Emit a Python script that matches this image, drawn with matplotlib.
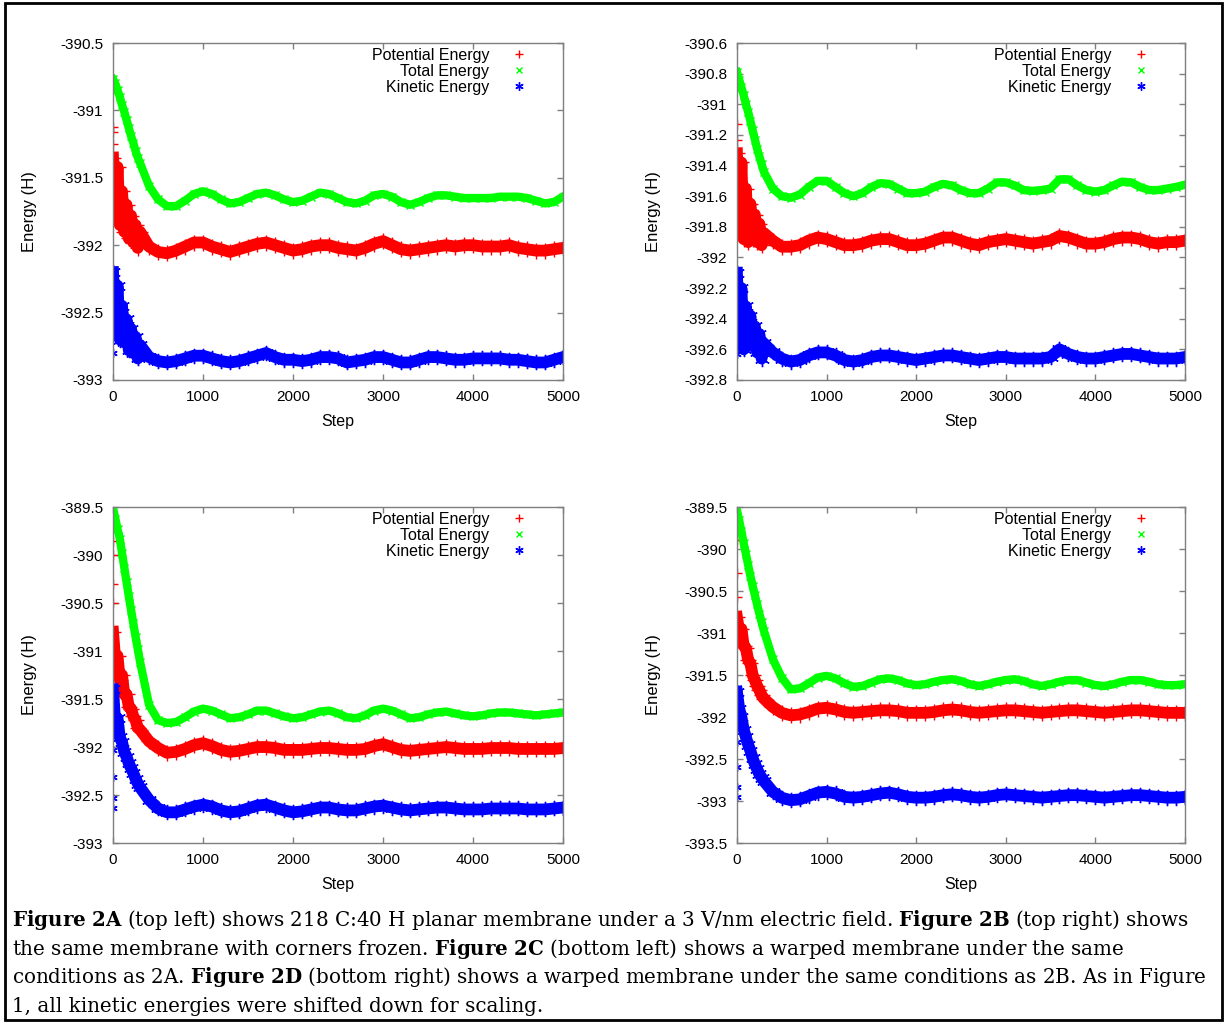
import matplotlib
matplotlib.use("Agg")
import matplotlib.pyplot as plt
from matplotlib.lines import Line2D
from matplotlib.patches import Rectangle
import numpy as np

plt.rcParams['font.family'] = ['Liberation Sans', 'DejaVu Sans']
plt.rcParams['axes.unicode_minus'] = False
plt.rcParams['mathtext.fontset'] = 'custom'
plt.rcParams['mathtext.rm'] = 'DejaVu Serif'
plt.rcParams['mathtext.bf'] = 'DejaVu Serif:bold'

# Step grid the values were read on (denser at the start where things move fast)
steps = [0, 25, 50, 75, 100, 125, 150, 175, 200, 225, 250, 275, 300] + list(range(400, 5001, 100))

# ---- Figure 2A: planar membrane ----
a_total = [-390.77, -390.80, -390.85, -390.90, -390.96, -391.01, -391.07, -391.13, -391.19, -391.24, -391.30, -391.35, -391.39,
           -391.56, -391.66, -391.71, -391.71, -391.67, -391.62, -391.60, -391.62, -391.66, -391.69, -391.68, -391.65,
           -391.62, -391.61, -391.63, -391.66, -391.68, -391.67, -391.64, -391.61, -391.62, -391.65, -391.68, -391.69,
           -391.67, -391.63, -391.62, -391.64, -391.68, -391.70, -391.68, -391.65, -391.63, -391.63, -391.64, -391.65,
           -391.65, -391.65, -391.65, -391.64, -391.64, -391.64, -391.65, -391.67, -391.69, -391.68, -391.64]
a_potential = [-391.35, -391.80, -391.42, -391.85, -391.60, -391.90, -391.70, -391.95, -391.78, -391.98, -391.85, -392.02, -391.90,
               -392.01, -392.05, -392.06, -392.04, -392.01, -391.98, -391.98, -392.01, -392.03, -392.05, -392.03, -392.01,
               -391.99, -391.98, -392.00, -392.02, -392.04, -392.03, -392.01, -392.00, -392.00, -392.02, -392.03, -392.04,
               -392.02, -391.99, -391.97, -392.00, -392.03, -392.04, -392.03, -392.02, -392.01, -392.00, -392.01, -392.00,
               -392.00, -392.01, -392.01, -392.01, -392.00, -392.02, -392.03, -392.04, -392.04, -392.03, -392.02]
a_kinetic = [-392.20, -392.65, -392.30, -392.70, -392.45, -392.72, -392.55, -392.78, -392.62, -392.80, -392.68, -392.84, -392.74,
             -392.83, -392.86, -392.87, -392.86, -392.84, -392.82, -392.82, -392.84, -392.86, -392.87, -392.86, -392.84,
             -392.82, -392.80, -392.83, -392.85, -392.85, -392.86, -392.85, -392.83, -392.83, -392.84, -392.87, -392.86,
             -392.85, -392.83, -392.83, -392.85, -392.87, -392.87, -392.85, -392.83, -392.83, -392.84, -392.85, -392.85,
             -392.84, -392.84, -392.84, -392.84, -392.85, -392.85, -392.86, -392.87, -392.87, -392.85, -392.83]

# ---- Figure 2B: corners frozen ----
b_total = [-390.79, -390.84, -390.89, -390.94, -391.00, -391.05, -391.11, -391.17, -391.23, -391.29, -391.34, -391.39, -391.44,
           -391.55, -391.60, -391.61, -391.59, -391.54, -391.50, -391.50, -391.54, -391.58, -391.60, -391.58, -391.54,
           -391.515, -391.52, -391.55, -391.58, -391.58, -391.57, -391.54, -391.52, -391.53, -391.56, -391.58, -391.58,
           -391.55, -391.51, -391.51, -391.53, -391.56, -391.565, -391.56, -391.55, -391.49, -391.49, -391.53, -391.56,
           -391.57, -391.56, -391.53, -391.505, -391.51, -391.54, -391.56, -391.56, -391.55, -391.54, -391.525]
b_potential = [-391.32, -391.85, -391.38, -391.88, -391.55, -391.90, -391.65, -391.88, -391.72, -391.90, -391.78, -391.92, -391.84,
               -391.89, -391.93, -391.93, -391.92, -391.89, -391.87, -391.88, -391.90, -391.92, -391.92, -391.91, -391.89,
               -391.88, -391.88, -391.90, -391.92, -391.92, -391.91, -391.89, -391.87, -391.87, -391.89, -391.91, -391.92,
               -391.90, -391.89, -391.88, -391.89, -391.90, -391.91, -391.90, -391.89, -391.86, -391.87, -391.89, -391.91,
               -391.91, -391.90, -391.88, -391.87, -391.87, -391.88, -391.90, -391.91, -391.90, -391.90, -391.89]
b_kinetic = [-392.10, -392.55, -392.20, -392.60, -392.32, -392.50, -392.38, -392.58, -392.45, -392.62, -392.50, -392.66, -392.56,
             -392.62, -392.66, -392.68, -392.67, -392.64, -392.62, -392.62, -392.64, -392.67, -392.68, -392.67, -392.65,
             -392.64, -392.64, -392.65, -392.66, -392.67, -392.66, -392.65, -392.64, -392.64, -392.65, -392.66, -392.67,
             -392.66, -392.65, -392.65, -392.66, -392.66, -392.66, -392.66, -392.65, -392.60, -392.63, -392.65, -392.66,
             -392.66, -392.65, -392.64, -392.63, -392.63, -392.64, -392.65, -392.66, -392.66, -392.66, -392.65]

# ---- Figure 2C: warped membrane, field only ----
c_total = [-389.51, -389.62, -389.73, -389.83, -389.98, -390.13, -390.28, -390.43, -390.57, -390.71, -390.85, -390.98, -391.11,
           -391.56, -391.72, -391.75, -391.74, -391.69, -391.63, -391.60, -391.62, -391.66, -391.70, -391.69, -391.66,
           -391.62, -391.62, -391.65, -391.68, -391.70, -391.69, -391.66, -391.63, -391.62, -391.65, -391.69, -391.70,
           -391.67, -391.62, -391.60, -391.62, -391.66, -391.70, -391.69, -391.66, -391.64, -391.63, -391.65, -391.67,
           -391.68, -391.67, -391.65, -391.64, -391.64, -391.65, -391.66, -391.67, -391.66, -391.65, -391.64]
c_potential = [-390.80, -391.10, -391.05, -391.30, -391.25, -391.45, -391.45, -391.58, -391.60, -391.68, -391.72, -391.80, -391.82,
               -391.94, -392.01, -392.06, -392.05, -392.02, -391.98, -391.96, -391.99, -392.03, -392.05, -392.04, -392.02,
               -392.00, -392.00, -392.01, -392.03, -392.03, -392.03, -392.02, -392.01, -392.01, -392.02, -392.03, -392.03,
               -392.02, -391.99, -391.97, -392.00, -392.03, -392.04, -392.03, -392.02, -392.01, -392.00, -392.01, -392.02,
               -392.02, -392.02, -392.01, -392.01, -392.01, -392.02, -392.02, -392.02, -392.02, -392.02, -392.01]
c_kinetic = [-391.40, -391.75, -391.70, -391.90, -391.95, -392.05, -392.10, -392.17, -392.22, -392.27, -392.33, -392.38, -392.42,
             -392.55, -392.64, -392.68, -392.68, -392.65, -392.62, -392.60, -392.62, -392.66, -392.68, -392.67, -392.64,
             -392.61, -392.60, -392.63, -392.66, -392.68, -392.67, -392.65, -392.63, -392.63, -392.65, -392.66, -392.66,
             -392.64, -392.62, -392.61, -392.63, -392.65, -392.66, -392.65, -392.64, -392.63, -392.63, -392.64, -392.65,
             -392.65, -392.65, -392.64, -392.64, -392.64, -392.64, -392.65, -392.65, -392.65, -392.64, -392.63]

# ---- Figure 2D: warped membrane, corners frozen ----
d_total = [-389.54, -389.66, -389.79, -389.93, -390.06, -390.19, -390.32, -390.44, -390.55, -390.66, -390.77, -390.87, -390.97,
           -391.31, -391.53, -391.67, -391.66, -391.60, -391.53, -391.51, -391.54, -391.60, -391.64, -391.63, -391.59,
           -391.55, -391.54, -391.56, -391.60, -391.62, -391.61, -391.58, -391.56, -391.55, -391.57, -391.61, -391.63,
           -391.61, -391.58, -391.56, -391.55, -391.57, -391.61, -391.63, -391.61, -391.58, -391.56, -391.56, -391.59,
           -391.62, -391.63, -391.61, -391.58, -391.56, -391.56, -391.58, -391.61, -391.62, -391.62, -391.61]
d_potential = [-390.81, -390.98, -390.95, -391.15, -391.18, -391.32, -391.36, -391.50, -391.56, -391.63, -391.68, -391.74, -391.78,
               -391.88, -391.95, -391.98, -391.97, -391.94, -391.90, -391.89, -391.91, -391.94, -391.95, -391.94, -391.93,
               -391.92, -391.92, -391.93, -391.95, -391.95, -391.95, -391.94, -391.92, -391.91, -391.92, -391.94, -391.95,
               -391.94, -391.93, -391.92, -391.92, -391.93, -391.94, -391.95, -391.94, -391.93, -391.92, -391.92, -391.93,
               -391.94, -391.95, -391.94, -391.93, -391.92, -391.92, -391.93, -391.94, -391.95, -391.95, -391.95]
d_kinetic = [-391.70, -391.90, -392.00, -392.15, -392.24, -392.33, -392.40, -392.49, -392.56, -392.62, -392.68, -392.72, -392.76,
             -392.89, -392.96, -392.99, -392.98, -392.94, -392.90, -392.89, -392.91, -392.95, -392.96, -392.95, -392.93,
             -392.91, -392.90, -392.92, -392.95, -392.96, -392.96, -392.95, -392.93, -392.92, -392.93, -392.95, -392.96,
             -392.95, -392.93, -392.92, -392.93, -392.94, -392.95, -392.96, -392.95, -392.94, -392.93, -392.93, -392.94,
             -392.95, -392.96, -392.95, -392.94, -392.93, -392.93, -392.94, -392.95, -392.96, -392.96, -392.95]

# Stray first-step points that sit away from the bands
a_pot_out = [-391.12, -391.16, -391.25]
a_kin_out = [-392.80]
b_pot_out = [-391.13, -391.23]
b_kin_out = [-392.63]
c_pot_out = [-389.85, -390.0, -390.3, -390.5]
c_kin_out = [-392.03, -392.31, -392.53, -392.64]
d_pot_out = [-389.89, -390.29, -390.57]
d_kin_out = [-392.30, -392.60, -392.83, -392.95]

series_labels = ['Potential Energy', 'Total Energy', 'Kinetic Energy']
x_ticks = [0, 1000, 2000, 3000, 4000, 5000]

RED, GREEN, BLUE = '#ff0000', '#00ff00', '#0000ff'
ASTER = (6, 2, 0)

fig = plt.figure(figsize=(12.26, 10.22), dpi=100)

panels = [
    # rect, ylim, ytick step, data
    ([0.0922, 0.6282, 0.367, 0.3297], (-393.0, -390.5), 0.5, a_potential, a_total, a_kinetic, a_pot_out, a_kin_out),
    ([0.6011, 0.6282, 0.3654, 0.3297], (-392.8, -390.6), 0.2, b_potential, b_total, b_kinetic, b_pot_out, b_kin_out),
    ([0.0922, 0.1751, 0.367, 0.3288], (-393.0, -389.5), 0.5, c_potential, c_total, c_kinetic, c_pot_out, c_kin_out),
    ([0.6011, 0.1751, 0.3654, 0.3288], (-393.5, -389.5), 0.5, d_potential, d_total, d_kinetic, d_pot_out, d_kin_out),
]

for rect, ylim, ystep, pot, tot, kin, pot_out, kin_out in panels:
    ax = fig.add_axes(rect)

    ax.plot(steps, pot, color=RED, lw=8.5, marker='+', ms=12, mew=1, solid_joinstyle='round')
    ax.plot([0] * len(pot_out), pot_out, ls='none', color=RED, marker='+', ms=7, mew=1)
    ax.plot(steps, tot, color=GREEN, lw=6, marker='x', ms=6, mew=1, solid_joinstyle='round')
    ax.plot(steps, kin, color=BLUE, lw=8.5, marker=ASTER, ms=11, mew=1, solid_joinstyle='round')
    ax.plot([0] * len(kin_out), kin_out, ls='none', color=BLUE, marker=ASTER, ms=6, mew=1)

    ax.set_xlim(0, 5000)
    ax.set_ylim(*ylim)
    ax.set_xticks(x_ticks)
    yt = np.round(np.arange(ylim[0], ylim[1] + ystep / 2, ystep), 2)
    ax.set_yticks(yt)
    ax.set_yticklabels(['%g' % v for v in yt])

    for sp in ax.spines.values():
        sp.set_color('#7f7f7f')
        sp.set_linewidth(1)
    ax.tick_params(direction='in', length=4, width=1, color='#7f7f7f',
                   top=True, right=True, labelsize=11, pad=7)

    ax.set_xlabel('Step', fontsize=11.5)
    ax.set_ylabel('Energy (H)', fontsize=12)
    ax.xaxis.set_label_coords(0.5, -0.1)
    ax.yaxis.set_label_coords(-0.17, 0.5)

    handles = [Line2D([], [], ls='none', color=RED, marker='+', ms=6, mew=1),
               Line2D([], [], ls='none', color=GREEN, marker='x', ms=5, mew=1),
               Line2D([], [], ls='none', color=BLUE, marker=ASTER, ms=6, mew=1)]
    ax.legend(handles, series_labels, loc='upper right', bbox_to_anchor=(0.957, 0.985),
              frameon=False, markerfirst=False, fontsize=11.5, labelspacing=0.05,
              handlelength=3.1, handletextpad=0.3, borderpad=0, borderaxespad=0)

# Caption under the panels
caption = [
    r'$\mathbf{Figure\ 2A}$ (top left) shows 218 C:40 H planar membrane under a 3 V/nm electric field. $\mathbf{Figure\ 2B}$ (top right) shows',
    r'the same membrane with corners frozen. $\mathbf{Figure\ 2C}$ (bottom left) shows a warped membrane under the same',
    r'conditions as 2A. $\mathbf{Figure\ 2D}$ (bottom right) shows a warped membrane under the same conditions as 2B. As in Figure',
    r'1, all kinetic energies were shifted down for scaling.',
]
for i, line in enumerate(caption):
    fig.text(12 / 1226, 1 - (926 + 28.5 * i) / 1022, line, fontsize=14.35,
             family='DejaVu Serif', va='baseline', ha='left')

# Frame around the whole figure
fig.patches.append(Rectangle((5 / 1226, 2 / 1022), 1217 / 1226, 1017 / 1022,
                             transform=fig.transFigure, fill=False, lw=2, ec='black'))

fig.savefig('out.png', dpi=100)
